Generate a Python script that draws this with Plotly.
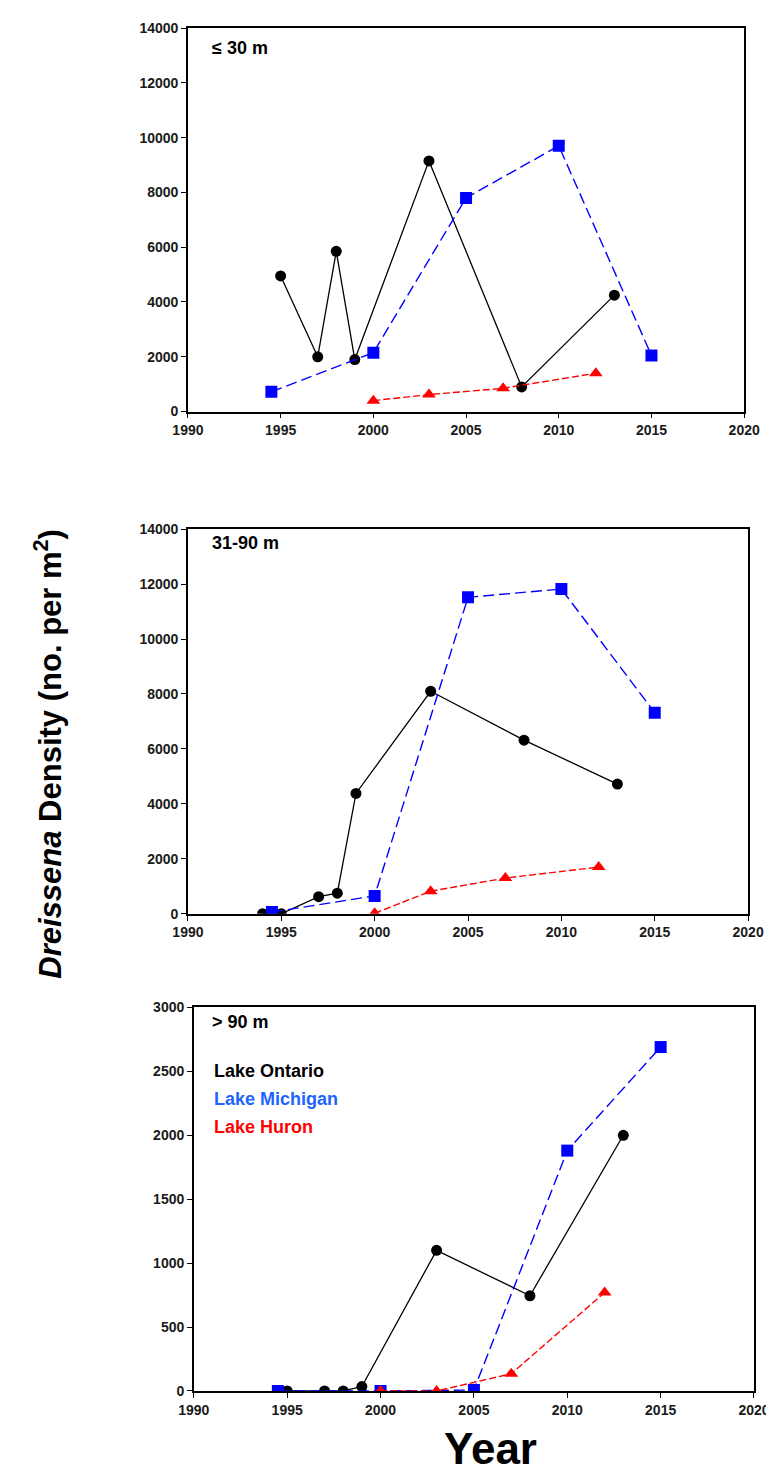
import plotly.graph_objects as go

# ---------------- data ----------------
# Panel 1: <= 30 m
p1_ontario_year = [1995, 1997, 1998, 1999, 2003, 2008, 2013]
p1_ontario_val = [4950, 2000, 5850, 1900, 9150, 900, 4250]
p1_michigan_year = [1994.5, 2000, 2005, 2010, 2015]
p1_michigan_val = [720, 2150, 7800, 9700, 2050]
p1_huron_year = [2000, 2003, 2007, 2012]
p1_huron_val = [400, 620, 850, 1400]

# Panel 2: 31-90 m
p2_ontario_year = [1994, 1995, 1997, 1998, 1999, 2003, 2008, 2013]
p2_ontario_val = [0, 0, 620, 750, 4380, 8100, 6320, 4720]
p2_michigan_year = [1994.5, 2000, 2005, 2010, 2015]
p2_michigan_val = [60, 650, 11520, 11820, 7320]
p2_huron_year = [2000, 2003, 2007, 2012]
p2_huron_val = [20, 820, 1300, 1700]

# Panel 3: > 90 m
p3_ontario_year = [1995, 1997, 1998, 1999, 2003, 2008, 2013]
p3_ontario_val = [0, 0, 0, 35, 1100, 745, 2000]
p3_michigan_year = [1994.5, 2000, 2005, 2010, 2015]
p3_michigan_val = [0, 0, 8, 1880, 2690]
p3_huron_year = [2000, 2003, 2007, 2012]
p3_huron_val = [0, 0, 135, 770]

panel_labels = ["\u2264 30 m", "31-90 m", "> 90 m"]
lake_names = ["Lake Ontario", "Lake Michigan", "Lake Huron"]
x_ticks = [1990, 1995, 2000, 2005, 2010, 2015, 2020]
y_ticks_upper = [0, 2000, 4000, 6000, 8000, 10000, 12000, 14000]
y_ticks_lower = [0, 500, 1000, 1500, 2000, 2500, 3000]

# ---------------- layout geometry ----------------
W, H = 774, 1473
ML, MR, MT, MB = 176, 18, 15, 90
PW = W - ML - MR
PH = H - MT - MB


def px_x(x):
    return (x - ML) / PW


def px_y(y):
    return (H - MB - y) / PH


panels = [
    dict(x0=180, x1=746, y0=15, y1=400, yt=y_ticks_upper),
    dict(x0=180, x1=750, y0=518, y1=904, yt=y_ticks_upper),
    dict(x0=186, x1=756, y0=998, y1=1383, yt=y_ticks_lower),
]

data = [
    (p1_ontario_year, p1_ontario_val, p1_michigan_year, p1_michigan_val, p1_huron_year, p1_huron_val),
    (p2_ontario_year, p2_ontario_val, p2_michigan_year, p2_michigan_val, p2_huron_year, p2_huron_val),
    (p3_ontario_year, p3_ontario_val, p3_michigan_year, p3_michigan_val, p3_huron_year, p3_huron_val),
]

BLACK = "#000000"
BLUE = "#0000FF"
RED = "#FF0000"
FONT = "Liberation Sans, Arial, sans-serif"

fig = go.Figure()
layout = dict(
    width=W, height=H,
    margin=dict(l=ML, r=MR, t=MT, b=MB),
    paper_bgcolor="white", plot_bgcolor="white",
    showlegend=False,
    font=dict(family=FONT, color="#111111"),
)

tickfont = dict(family=FONT, size=14, color="#1a1a1a")

for i, (p, d) in enumerate(zip(panels, data)):
    sfx = "" if i == 0 else str(i + 1)
    xa, ya = "x" + sfx, "y" + sfx
    oy, ov, my, mv, hy, hv = d
    fig.add_trace(go.Scatter(
        x=oy, y=ov, xaxis=xa, yaxis=ya, mode="lines+markers",
        line=dict(color=BLACK, width=1.3),
        marker=dict(symbol="circle", size=11, color=BLACK),
        name=lake_names[0]))
    fig.add_trace(go.Scatter(
        x=my, y=mv, xaxis=xa, yaxis=ya, mode="lines+markers",
        line=dict(color=BLUE, width=1.4, dash="11px,5px"),
        marker=dict(symbol="square", size=12, color=BLUE),
        name=lake_names[1]))
    fig.add_trace(go.Scatter(
        x=hy, y=hv, xaxis=xa, yaxis=ya, mode="lines+markers",
        line=dict(color=RED, width=1.4, dash="7px,3px"),
        marker=dict(symbol="triangle-up", size=12, color=RED),
        name=lake_names[2]))

    yt = p["yt"]
    layout["xaxis" + sfx] = dict(
        domain=[px_x(p["x0"]), px_x(p["x1"])], anchor=ya,
        range=[1990, 2020], tickvals=x_ticks, ticktext=[f"<b>{t}</b>" for t in x_ticks],
        showline=True, linecolor="black", linewidth=1.5, mirror=True,
        ticks="outside", ticklen=5, tickwidth=1.2, tickcolor="black",
        showgrid=False, zeroline=False, tickfont=tickfont,
    )
    layout["yaxis" + sfx] = dict(
        domain=[px_y(p["y1"]), px_y(p["y0"])], anchor=xa,
        range=[yt[0], yt[-1]], tickvals=yt, ticktext=[f"<b>{t}</b>" for t in yt],
        showline=True, linecolor="black", linewidth=1.5, mirror=True,
        ticks="outside", ticklen=5, tickwidth=1.2, tickcolor="black",
        showgrid=False, zeroline=False, tickfont=tickfont,
    )

annotations = []
label_pos = [(202, 35), (202, 532), (202, 1013)]
for lab, (lx, ly) in zip(panel_labels, label_pos):
    annotations.append(dict(
        text=f"<b>{lab}</b>", xref="paper", yref="paper",
        x=px_x(lx), y=px_y(ly), xanchor="left", yanchor="middle",
        showarrow=False, font=dict(family=FONT, size=18, color="black")))

legend_colors = ["#000000", "#1E64FF", "#FF0000"]
legend_y = [1062, 1090, 1118]
for name, c, ly in zip(lake_names, legend_colors, legend_y):
    annotations.append(dict(
        text=f"<b>{name}</b>", xref="paper", yref="paper",
        x=px_x(204), y=px_y(ly), xanchor="left", yanchor="middle",
        showarrow=False, font=dict(family=FONT, size=18, color=c)))

annotations.append(dict(
    text="<b><i>Dreissena</i> Density (no. per m<sup>2</sup>)</b>",
    xref="paper", yref="paper", x=px_x(38), y=px_y(743),
    xanchor="center", yanchor="middle", textangle=-90,
    showarrow=False, font=dict(family=FONT, size=31, color="black")))

annotations.append(dict(
    text="<b>Year</b>", xref="paper", yref="paper", x=px_x(488), y=px_y(1441),
    xanchor="center", yanchor="middle", showarrow=False,
    font=dict(family=FONT, size=44, color="black")))

layout["annotations"] = annotations
fig.update_layout(**layout)
fig.write_html("out.html")
